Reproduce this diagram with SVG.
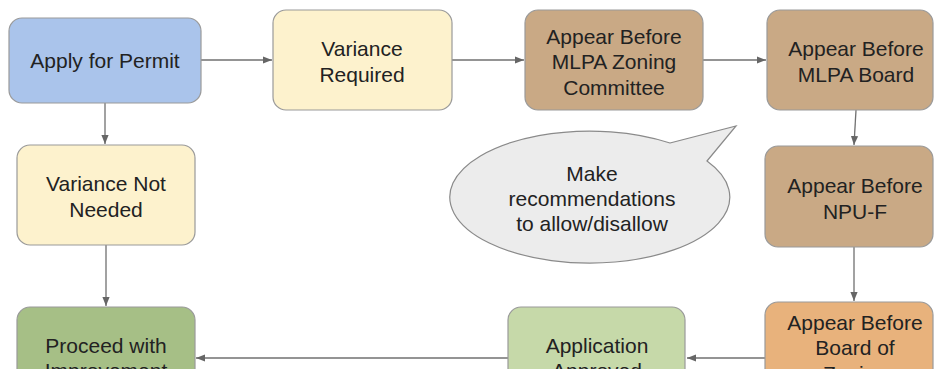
<svg xmlns="http://www.w3.org/2000/svg" width="935" height="369" viewBox="0 0 935 369">
<defs>
<marker id="ah" viewBox="0 0 10 10" refX="10" refY="5" markerWidth="9" markerHeight="9" markerUnits="userSpaceOnUse" orient="auto">
<path d="M0,1 L10,5 L0,9 Z" fill="#666"/>
</marker>
</defs>
<style>
.box{stroke:#9a9a9a;stroke-width:1.2}
.t{font-family:"Liberation Sans",Arial,sans-serif;font-size:21px;fill:#222;text-anchor:middle}
.c{fill:none;stroke:#707070;stroke-width:1.3;marker-end:url(#ah)}
</style>
<rect width="935" height="369" fill="#fff"/>
<g id="connectors">
<line class="c" x1="201" y1="60" x2="272" y2="60"/>
<line class="c" x1="452" y1="60" x2="524" y2="60"/>
<line class="c" x1="703" y1="60" x2="766" y2="60"/>
<line class="c" x1="856" y1="110" x2="854" y2="145"/>
<line class="c" x1="854" y1="247" x2="854" y2="301"/>
<line class="c" x1="765" y1="358" x2="687" y2="358"/>
<line class="c" x1="508" y1="358" x2="196" y2="358"/>
<line class="c" x1="105" y1="103" x2="105" y2="144"/>
<line class="c" x1="106" y1="245" x2="106" y2="306"/>
</g>
<g id="apply">
<rect class="box" x="9" y="18" width="192" height="85" rx="13" fill="#aac4eb"/>
<text class="t" x="105" y="68">Apply for Permit</text>
</g>
<g id="variance-required">
<rect class="box" x="273" y="10" width="179" height="100" rx="13" fill="#fdf2cd"/>
<text class="t" x="362" y="55.5">Variance</text>
<text class="t" x="362" y="81.5">Required</text>
</g>
<g id="zoning-committee">
<rect class="box" x="525" y="10" width="178" height="100" rx="13" fill="#c9a985"/>
<text class="t" x="614" y="43.5">Appear Before</text>
<text class="t" x="614" y="69">MLPA Zoning</text>
<text class="t" x="614" y="95">Committee</text>
</g>
<g id="mlpa-board">
<rect class="box" x="767" y="10" width="166" height="100" rx="13" fill="#c9a985"/>
<text class="t" x="856" y="56">Appear Before</text>
<text class="t" x="856" y="82">MLPA Board</text>
</g>
<g id="bubble">
<path d="M670,143 L736,126 L707,161 A140,66 0 1,1 670,143 Z" fill="#ececec" stroke="#8a8a8a" stroke-width="1.2"/>
<text class="t" x="592" y="180.5">Make</text>
<text class="t" x="592" y="205.5">recommendations</text>
<text class="t" x="592" y="230.5">to allow/disallow</text>
</g>
<g id="npu-f">
<rect class="box" x="765" y="146" width="168" height="101" rx="13" fill="#c9a985"/>
<text class="t" x="855" y="192.5">Appear Before</text>
<text class="t" x="855" y="219">NPU-F</text>
</g>
<g id="board-zoning">
<rect class="box" x="765" y="302" width="168" height="100" rx="13" fill="#e8b27c"/>
<text class="t" x="855" y="329.5">Appear Before</text>
<text class="t" x="855" y="355">Board of</text>
<text class="t" x="855" y="381">Zoning</text>
</g>
<g id="approved">
<rect class="box" x="508" y="307" width="177" height="100" rx="13" fill="#c6d9a9"/>
<text class="t" x="597" y="352.5">Application</text>
<text class="t" x="597" y="378">Approved</text>
</g>
<g id="variance-not-needed">
<rect class="box" x="17" y="145" width="178" height="100" rx="13" fill="#fdf2cd"/>
<text class="t" x="106" y="190.5">Variance Not</text>
<text class="t" x="106" y="217">Needed</text>
</g>
<g id="proceed">
<rect class="box" x="17" y="307" width="178" height="100" rx="13" fill="#a6bf86"/>
<text class="t" x="106" y="352.5">Proceed with</text>
<text class="t" x="106" y="378">Improvement</text>
</g>
</svg>
